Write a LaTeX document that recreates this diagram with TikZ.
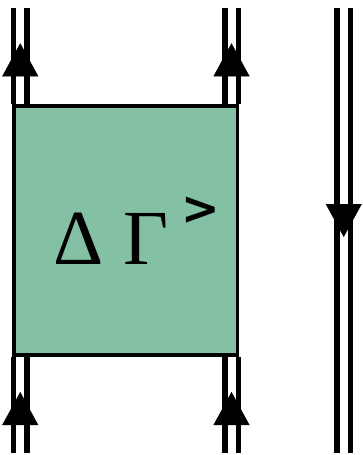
\documentclass[tikz,border=0pt]{standalone}
\usepackage{fontspec}
\setmainfont{Liberation Serif}
\newfontfamily\chevfont{DejaVu Sans}
\usetikzlibrary{arrows.meta,decorations.markings}
\definecolor{boxgreen}{RGB}{132,193,164}

\begin{document}
\begin{tikzpicture}[x=1pt, y=-1pt,
    prop/.style={double, double distance=8pt, line width=5.5pt},
    flow/.style={decoration={markings, mark=at position #1 with {\arrow{Triangle[length=33pt,width=36pt]}}}, decorate},
    block/.style={rectangle, draw, line width=3.5pt, fill=boxgreen, minimum width=223.5pt, minimum height=249pt, inner sep=0pt}]

    \useasboundingbox (0,0) rectangle (362,455);

    % vertex
    \node[block] (gam) at (125.75,230.5) {\fontsize{78}{80}\selectfont\hspace{22pt}Δ Γ\hspace{13pt}\raisebox{40pt}{\chevfont\bfseries\fontsize{46}{46}\selectfont >}};

    % line ends
    \coordinate (lt) at (20.25,8);
    \coordinate (lb) at (20.25,453);
    \coordinate (mt) at (231.5,8);
    \coordinate (mb) at (231.5,453);
    \coordinate (rt) at (343.75,8);
    \coordinate (rb) at (343.75,453);

    % propagators
    \draw[prop] (gam.south west -| lb) -- (lb);
    \draw[prop] (gam.north west -| lt) -- (lt);
    \draw[prop] (gam.south east -| mb) -- (mb);
    \draw[prop] (gam.north east -| mt) -- (mt);
    \draw[prop] (rt) -- (rb);

    % arrows
    \path[flow=61pt] (lb) -- (gam.south west -| lb);
    \path[flow=61pt] (gam.north west -| lt) -- (lt);
    \path[flow=61pt] (mb) -- (gam.south east -| mb);
    \path[flow=61pt] (gam.north east -| mt) -- (mt);
    \path[flow=229pt] (rt) -- (rb);
\end{tikzpicture}
\end{document}
